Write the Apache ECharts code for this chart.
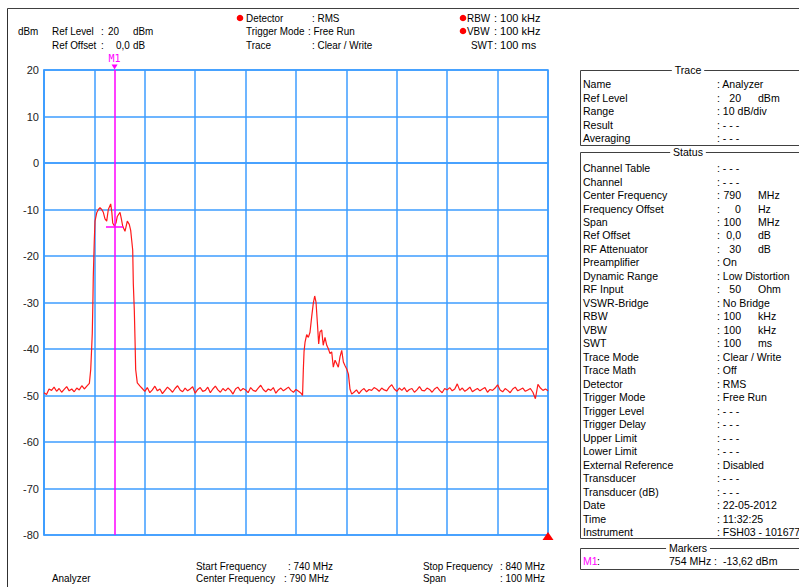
<!DOCTYPE html>
<html>
<head>
<meta charset="utf-8">
<script src="https://cdn.jsdelivr.net/npm/echarts@6/dist/echarts.min.js"></script>
<style>
html,body{margin:0;padding:0;background:#fff;}
#chart{width:799px;height:587px;}
</style>
</head>
<body>
<div id="chart"></div>
<script>
// ---------- DATA ----------
const yTicks = [20, 10, 0, -10, -20, -30, -40, -50, -60, -70, -80];
const startFreq = 740, stopFreq = 840; // MHz
const noiseStep = 0.5;

// noise floor before channel 1 (740.0 .. 749.0 MHz, 0.5 MHz step)
const noiseAStart = 740.0;
const noiseA = [-49.4,-49.8,-48.6,-48.9,-48.2,-49.1,-48.5,-49.3,-48.7,-48.1,
                -49.0,-48.6,-49.2,-48.4,-48.8,-47.9,-48.6,-48.0,-47.4];

// channel 1 (frequency MHz, level dBm)
const chan1Freq = [749.27,749.45,749.58,749.7,749.78,749.98,750.12,750.46,750.8,751.11,
                   751.45,751.77,752.1,752.44,752.76,753.23,753.45,753.63,754.0,754.3,
                   754.54,755.08,755.35,755.62,756.07,756.53,756.92,757.2,757.4,757.6,
                   757.72,757.92,758.06,758.19,758.51,759.05];
const chan1Level = [-44.4,-40.0,-36.6,-30.0,-24.4,-16.6,-12.5,-10.7,-10.0,-9.6,
                    -10.0,-10.6,-12.0,-12.5,-10.0,-8.8,-10.5,-12.9,-13.62,-12.8,
                    -11.5,-10.6,-12.0,-13.6,-14.7,-12.5,-13.2,-14.5,-16.6,-18.7,
                    -25.9,-31.7,-38.0,-44.4,-47.3,-48.0];

// noise floor between channels (759.5 .. 791.0 MHz)
const noiseBStart = 759.5;
const noiseB = [-48.5,-49.1,-48.3,-49.4,-48.8,-48.0,-49.0,-48.6,-49.6,-48.9,
                -48.2,-48.7,-49.3,-48.5,-47.9,-48.8,-49.2,-48.4,-49.0,-48.6,
                -48.1,-49.5,-48.7,-48.3,-49.1,-48.9,-48.2,-49.4,-48.6,-48.0,
                -48.8,-49.3,-48.5,-49.0,-48.4,-48.9,-49.7,-48.6,-48.2,-49.0,
                -48.5,-48.8,-49.4,-48.3,-48.9,-49.1,-48.4,-47.8,-48.7,-49.2,
                -48.6,-48.9,-48.3,-49.5,-48.8,-48.4,-49.0,-48.6,-48.2,-48.9,
                -49.3,-48.7,-49.1,-49.5];

// channel 2
const chan2Freq = [791.3,791.45,791.6,791.8,792.12,792.45,792.78,793.11,793.43,793.71,
                   793.97,794.23,794.5,794.76,795.1,795.4,795.75,796.1,796.4,796.75,
                   797.08,797.4,797.75,798.1,798.4,798.73,799.07,799.4,799.73,800.06,
                   800.4,800.71,801.05];
const chan2Level = [-50.0,-44.6,-40.5,-38.5,-36.9,-37.5,-36.4,-33.1,-30.2,-28.6,
                    -29.9,-34.2,-38.9,-36.3,-35.9,-39.2,-37.5,-39.2,-39.9,-41.0,
                    -40.6,-43.9,-42.4,-43.2,-43.9,-41.7,-40.3,-42.8,-43.6,-44.3,
                    -45.4,-48.6,-49.7];

// noise floor after channel 2 (801.5 .. 840.0 MHz)
const noiseCStart = 801.5;
const noiseC = [-49.3,-48.8,-49.6,-48.9,-48.5,-49.2,-48.7,-48.9,-48.3,-48.6,
                -49.1,-48.4,-48.8,-49.0,-48.2,-47.7,-48.6,-49.1,-48.4,-48.9,
                -48.3,-49.2,-48.7,-48.5,-49.3,-48.8,-48.1,-48.9,-49.0,-48.4,
                -48.7,-49.3,-48.6,-48.2,-48.9,-49.4,-48.5,-48.8,-48.3,-49.0,
                -48.6,-47.5,-48.9,-48.4,-49.1,-48.7,-48.2,-49.2,-48.8,-48.5,
                -49.0,-48.6,-48.3,-49.3,-48.7,-48.9,-48.4,-47.7,-48.8,-49.2,
                -48.5,-48.9,-49.4,-48.6,-48.2,-49.0,-48.7,-48.4,-49.1,-48.8,
                -48.5,-49.3,-50.7,-47.6,-48.4,-48.9,-48.6,-49.0];

const markerFreq = 754, markerLevel = -13.62;

// Panel tables
const traceRows = [['Name','Analyzer'],['Ref Level','20','dBm'],['Range','10 dB/div'],
                   ['Result','- - -'],['Averaging','- - -']];
const statusRows = [['Channel Table','- - -'],['Channel','- - -'],['Center Frequency','790','MHz'],
  ['Frequency Offset','0','Hz'],['Span','100','MHz'],['Ref Offset','0,0','dB'],
  ['RF Attenuator','30','dB'],['Preamplifier','On'],['Dynamic Range','Low Distortion'],
  ['RF Input','50','Ohm'],['VSWR-Bridge','No Bridge'],['RBW','100','kHz'],['VBW','100','kHz'],
  ['SWT','100','ms'],['Trace Mode','Clear / Write'],['Trace Math','Off'],['Detector','RMS'],
  ['Trigger Mode','Free Run'],['Trigger Level','- - -'],['Trigger Delay','- - -'],
  ['Upper Limit','- - -'],['Lower Limit','- - -'],['External Reference','Disabled'],
  ['Transducer','- - -'],['Transducer (dB)','- - -'],['Date','22-05-2012'],['Time','11:32:25'],
  ['Instrument','FSH03 - 101677']];

// ---------- BUILD ----------
const trace = [];
noiseA.forEach((v,i)=>trace.push([noiseAStart + i*noiseStep, v]));
chan1Freq.forEach((f,i)=>trace.push([f, chan1Level[i]]));
noiseB.forEach((v,i)=>trace.push([noiseBStart + i*noiseStep, v]));
chan2Freq.forEach((f,i)=>trace.push([f, chan2Level[i]]));
noiseC.forEach((v,i)=>trace.push([noiseCStart + i*noiseStep, v]));

const FONT = '11px "Liberation Sans", Arial, sans-serif';
const BLUE = '#3d9cff';
const g = [];
function txt(x, y, text, opt) {
  opt = opt || {};
  g.push({type:'text', x:x, y:y, z:10, silent:true, scaleX:opt.sx||0.9,
    style:Object.assign({text:text, font:opt.font||FONT, fill:opt.fill||'#000',
      align:opt.align||'left', verticalAlign:'middle'}, opt.extra||{})});
}
function line(x1,y1,x2,y2,color,w){
  g.push({type:'line', silent:true, z:5, shape:{x1:x1,y1:y1,x2:x2,y2:y2},
    style:{stroke:color||'#404040', lineWidth:w||1}});
}
function dot(x,y){
  g.push({type:'circle', silent:true, z:10, shape:{cx:x,cy:y,r:3.3}, style:{fill:'#ff0000'}});
}

// frame
line(7.5, 8.5, 799, 8.5, '#404040', 1);
line(7.5, 8.5, 7.5, 587, '#303030', 1);

// header
txt(18, 31, 'dBm');
txt(52, 31, 'Ref Level'); txt(101, 31, ':'); txt(108, 31, '20'); txt(133, 31, 'dBm');
txt(52, 45, 'Ref Offset'); txt(101, 45, ':'); txt(116, 45, '0,0'); txt(133, 45, 'dB');
dot(240, 18);
txt(246, 18, 'Detector'); txt(312, 18, ': RMS');
txt(246, 31, 'Trigger Mode'); txt(308, 31, ': Free Run');
txt(246, 45, 'Trace'); txt(312, 45, ': Clear / Write');
dot(463, 18); dot(463, 31);
txt(467, 18, 'RBW'); txt(494, 18, ': 100 kHz', {sx:1});
txt(467, 31, 'VBW'); txt(494, 31, ': 100 kHz', {sx:1});
txt(471, 45, 'SWT'); txt(494, 45, ': 100 ms', {sx:1});

// bottom
txt(52, 578, 'Analyzer');
txt(196, 566, 'Start Frequency'); txt(288, 566, ': 740 MHz');
txt(196, 578, 'Center Frequency'); txt(284, 578, ': 790 MHz');
txt(423, 566, 'Stop Frequency'); txt(500, 566, ': 840 MHz');
txt(423, 578, 'Span'); txt(500, 578, ': 100 MHz');

// right panels
function box(top, bottom, title){
  g.push({type:'rect', silent:true, z:4, shape:{x:580.5, y:top+0.5, width:240, height:bottom-top},
    style:{fill:'none', stroke:'#404040', lineWidth:1}});
  txt(688, top, title, {align:'center', sx:0.96, extra:{backgroundColor:'#fff', padding:[0,3]}});
}
function rows(list, y0){
  list.forEach((r,i)=>{
    const y = y0 + i*13.48;
    txt(583, y, r[0], {sx:0.96});
    if (r.length === 3) { txt(717, y, ':', {sx:0.96}); txt(741, y, r[1], {align:'right', sx:0.96}); txt(758, y, r[2], {sx:0.96}); }
    else txt(717, y, ': ' + r[1], {sx:0.96});
  });
}
box(70, 145, 'Trace'); rows(traceRows, 84);
box(152, 538, 'Status'); rows(statusRows, 168);
box(548, 569, 'Markers');
txt(583, 561, 'M1', {fill:'#ff00ff', sx:0.96}); txt(597, 561, ':', {sx:0.96});
txt(669, 561, markerFreq + ' MHz :  ' + String(markerLevel).replace('.', ',') + ' dBm', {sx:0.96});

const chart = echarts.init(document.getElementById('chart'), null, {renderer:'svg'});
chart.setOption({
  animation:false,
  backgroundColor:'#ffffff',
  grid:{left:44, top:70, width:504, height:465, show:true, borderColor:BLUE, borderWidth:1.5, backgroundColor:'transparent'},
  xAxis:{type:'value', min:startFreq, max:stopFreq, interval:10,
    axisLine:{show:true, lineStyle:{color:BLUE, width:1.5}}, axisTick:{show:false},
    axisLabel:{show:false}, splitLine:{show:true, lineStyle:{color:BLUE, width:1.5}}},
  yAxis:{type:'value', min:yTicks[yTicks.length-1], max:yTicks[0], interval:10,
    axisLine:{show:true, lineStyle:{color:BLUE, width:1.5}}, axisTick:{show:false},
    axisLabel:{color:'#222', fontFamily:'"Liberation Sans", Arial, sans-serif', fontSize:11, margin:5},
    splitLine:{show:true, lineStyle:{color:BLUE, width:1.5}}},
  graphic:g,
  series:[{
    type:'line', data:trace, showSymbol:false, symbol:'none', z:3,
    lineStyle:{color:'#ff1a1a', width:1.2},
    markLine:{silent:true, symbol:'none', animation:false, label:{show:false},
      lineStyle:{color:'#ff00ff', width:1.5, type:'solid'},
      data:[
        [{coord:[markerFreq, yTicks[0]]},{coord:[markerFreq, yTicks[yTicks.length-1]]}],
        [{coord:[markerFreq-1.7, markerLevel]},{coord:[markerFreq+1.7, markerLevel]}]
      ]},
    markPoint:{silent:true, animation:false, data:[
      {coord:[markerFreq, yTicks[0]], symbol:'triangle', symbolRotate:180, symbolSize:[6,5], symbolOffset:[0,-3],
        itemStyle:{color:'#ff00ff'},
        label:{show:true, formatter:'M1', position:'top', distance:1, color:'#ff00ff', fontSize:10, fontFamily:'"DejaVu Sans Mono", monospace'}},
      {coord:[stopFreq, yTicks[yTicks.length-1]], symbol:'triangle', symbolSize:[11,8], symbolOffset:[0,1],
        itemStyle:{color:'#ff0000'}, label:{show:false}}
    ]}
  }]
});
</script>
</body>
</html>
